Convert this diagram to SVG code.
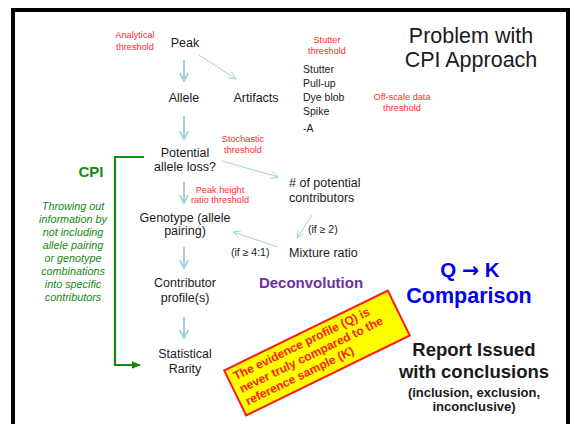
<svg xmlns="http://www.w3.org/2000/svg" width="579" height="424" viewBox="0 0 579 424">
  <style>
    text { font-family: "Liberation Sans", Arial, sans-serif; fill: #1a1a1a; }
    .node { font-size: 12.5px; text-anchor: middle; }
    .left { text-anchor: start; }
    .small { font-size: 10.5px; }
    .red { font-size: 9.2px; fill: #ff2b2b; text-anchor: middle; }
    .note { font-size: 10.8px; font-style: italic; text-anchor: middle; fill: #138a13; }
    .title { font-size: 21.5px; text-anchor: middle; }
    .blue { font-weight: bold; fill: #0000ee; text-anchor: middle; }
    .report { font-weight: bold; text-anchor: middle; }
    .flow { stroke: #a3d2da; fill: none; }
    .thick { stroke-width: 2; }
    .thin { stroke-width: 1; }
    .bracket { stroke: #138a13; stroke-width: 2.2; fill: none; }
    .warn { font-size: 12px; font-weight: bold; fill: #ff1a1a; }
  </style>
  <defs>
    <marker id="headThick" markerUnits="userSpaceOnUse" viewBox="0 0 10 10" refX="9" refY="5" markerWidth="10" markerHeight="10" orient="auto">
      <path d="M1,0.8 L9,5 L1,9.2" fill="none" stroke="#a3d2da" stroke-width="1.8"/>
    </marker>
    <marker id="headThin" markerUnits="userSpaceOnUse" viewBox="0 0 10 10" refX="9" refY="5" markerWidth="9" markerHeight="9" orient="auto">
      <path d="M1,1.2 L9,5 L1,8.8" fill="none" stroke="#a3d2da" stroke-width="1"/>
    </marker>
    <marker id="headGreen" markerUnits="userSpaceOnUse" viewBox="0 0 10 10" refX="9" refY="5" markerWidth="9" markerHeight="9" orient="auto">
      <path d="M0,0.8 L10,5 L0,9.2 Z" fill="#138a13"/>
    </marker>
  </defs>

  <rect width="579" height="424" fill="#ffffff"/>
  <!-- slide frame, open at the bottom -->
  <path d="M13,440 L13,10 L568,10 L568,440" fill="none" stroke="#000" stroke-width="4"/>

  <!-- title -->
  <g id="title">
    <text class="title" x="471" y="43">Problem with</text>
    <text class="title" x="471" y="67">CPI Approach</text>
  </g>

  <!-- connectors -->
  <g id="connectors">
    <path class="flow thick" d="M184,60 L184,81" marker-end="url(#headThick)"/>
    <path class="flow thin" d="M199,55 L236,79" marker-end="url(#headThin)"/>
    <path class="flow thick" d="M184,116 L184,139" marker-end="url(#headThick)"/>
    <path class="flow thin" d="M222,161 L278,177" marker-end="url(#headThin)"/>
    <path class="flow thick" d="M184,182 L184,203" marker-end="url(#headThick)"/>
    <path class="flow thin" d="M312,215 L297,238" marker-end="url(#headThin)"/>
    <path class="flow thin" d="M278,247 L233,232" marker-end="url(#headThin)"/>
    <path class="flow thick" d="M184,247 L184,268" marker-end="url(#headThick)"/>
    <path class="flow thick" d="M184,317 L184,338" marker-end="url(#headThick)"/>
    <path class="bracket" d="M144,157 L115,157 L115,365 L140,365" marker-end="url(#headGreen)"/>
  </g>

  <!-- threshold labels -->
  <g id="thresholds">
    <text class="red" x="135" y="38">Analytical</text>
    <text class="red" x="135" y="50">threshold</text>
    <text class="red" x="327" y="43">Stutter</text>
    <text class="red" x="327" y="54">threshold</text>
    <text class="red" x="402" y="100">Off-scale data</text>
    <text class="red" x="402" y="111">threshold</text>
    <text class="red" x="243" y="142">Stochastic</text>
    <text class="red" x="243" y="153">threshold</text>
    <text class="red" x="220" y="193">Peak height</text>
    <text class="red" x="220" y="203">ratio threshold</text>
  </g>

  <g id="peak"><text class="node" x="185" y="47">Peak</text></g>
  <g id="allele"><text class="node" x="184" y="102">Allele</text></g>
  <g id="artifacts"><text class="node" x="256" y="102">Artifacts</text></g>
  <g id="artifact-types">
    <text class="small" x="303" y="73">Stutter</text>
    <text class="small" x="303" y="87">Pull-up</text>
    <text class="small" x="303" y="101">Dye blob</text>
    <text class="small" x="303" y="115">Spike</text>
    <text class="small" x="303" y="132">-A</text>
  </g>
  <g id="allele-loss">
    <text class="node" x="185" y="157">Potential</text>
    <text class="node" x="185" y="171">allele loss?</text>
  </g>
  <g id="contributors">
    <text class="node left" x="289" y="187"># of potential</text>
    <text class="node left" x="289" y="202">contributors</text>
  </g>
  <g id="genotype">
    <text class="node" x="185" y="222">Genotype (allele</text>
    <text class="node" x="185" y="235">pairing)</text>
  </g>
  <g id="if-two"><text class="small" x="308" y="233">(if ≥ 2)</text></g>
  <g id="mixture"><text class="node left" x="289" y="257">Mixture ratio</text></g>
  <g id="if-four"><text class="small" x="231" y="256">(if ≥ 4:1)</text></g>
  <g id="profile">
    <text class="node" x="185" y="287">Contributor</text>
    <text class="node" x="185" y="302">profile(s)</text>
  </g>
  <g id="deconvolution">
    <text x="311" y="288" style="font-size:15px;font-weight:bold;fill:#7030a0;text-anchor:middle">Deconvolution</text>
  </g>
  <g id="rarity">
    <text class="node" x="185" y="358">Statistical</text>
    <text class="node" x="185" y="373">Rarity</text>
  </g>

  <!-- CPI bracket label and note -->
  <g id="cpi">
    <text x="91" y="177" style="font-size:15px;font-weight:bold;fill:#138a13;text-anchor:middle">CPI</text>
    <text class="note" x="73" y="210">Throwing out</text>
    <text class="note" x="73" y="223">information by</text>
    <text class="note" x="73" y="236">not including</text>
    <text class="note" x="73" y="249">allele pairing</text>
    <text class="note" x="73" y="262">or genotype</text>
    <text class="note" x="73" y="275">combinations</text>
    <text class="note" x="73" y="288">into specific</text>
    <text class="note" x="73" y="301">contributors</text>
  </g>

  <g id="comparison">
    <text class="blue" x="470" y="277" style="font-size:20.5px">Q <tspan style="font-family:'DejaVu Sans',sans-serif;font-weight:bold">→</tspan> K</text>
    <text class="blue" x="469" y="303" style="font-size:21.5px">Comparison</text>
  </g>

  <g id="report">
    <text class="report" x="474" y="356" style="font-size:18.5px">Report Issued</text>
    <text class="report" x="474" y="378" style="font-size:18.5px">with conclusions</text>
    <text class="report" x="474" y="397" style="font-size:13px">(inclusion, exclusion,</text>
    <text class="report" x="474" y="411" style="font-size:13px">inconclusive)</text>
  </g>

  <!-- warning callout -->
  <g id="warning" transform="translate(317,353) rotate(-26)">
    <rect x="-91" y="-25" width="182" height="50" fill="#ffff00" stroke="#ff1a1a" stroke-width="2"/>
    <text class="warn" x="-85" y="-11">The evidence profile (Q) is</text>
    <text class="warn" x="-85" y="3">never truly compared to the</text>
    <text class="warn" x="-85" y="17">reference sample (K)</text>
  </g>
</svg>
